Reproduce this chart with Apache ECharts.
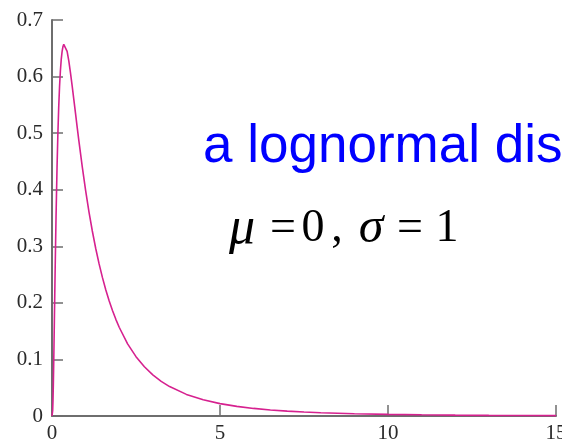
<!DOCTYPE html>
<html>
<head>
<meta charset="utf-8">
<script src="https://cdn.jsdelivr.net/npm/echarts@6/dist/echarts.min.js"></script>
<style>
html,body{margin:0;padding:0;background:#fff;}
#chart{width:562px;height:439px;}
</style>
</head>
<body>
<div id="chart"></div>
<script>
// Values (lognormal density, mu = 0, sigma = 1)
var xValues = [0, 0.01, 0.02, 0.03, 0.04, 0.05, 0.06, 0.07, 0.08, 0.09, 0.1, 0.12, 0.15, 0.175, 0.2, 0.225, 0.25, 0.275, 0.3, 0.325, 0.35, 0.368, 0.4, 0.45, 0.5, 0.55, 0.6, 0.65, 0.7, 0.75, 0.8, 0.9, 1.0, 1.1, 1.2, 1.3, 1.4, 1.5, 1.6, 1.7, 1.8, 1.9, 2.0, 2.25, 2.5, 2.75, 3.0, 3.25, 3.5, 4, 4.5, 5, 5.5, 6, 6.5, 7, 7.5, 8, 9, 10, 11, 12, 13, 14, 15];
var yValues = [0, 0.001, 0.0095, 0.0284, 0.0562, 0.0898, 0.1271, 0.166, 0.2054, 0.2441, 0.2815, 0.3512, 0.4399, 0.499, 0.5464, 0.5828, 0.6104, 0.6305, 0.6442, 0.6527, 0.657, 0.6577, 0.6555, 0.6445, 0.6276, 0.6067, 0.5836, 0.5594, 0.5348, 0.5103, 0.4864, 0.4408, 0.3989, 0.361, 0.327, 0.2965, 0.2693, 0.245, 0.2233, 0.2039, 0.1865, 0.1709, 0.1569, 0.1276, 0.1049, 0.087, 0.0727, 0.0613, 0.052, 0.0382, 0.0286, 0.0219, 0.017, 0.0134, 0.0107, 0.0086, 0.007, 0.0057, 0.004, 0.0028, 0.0021, 0.0015, 0.0011, 0.0009, 0.0007];
var xTicks = [0, 5, 10, 15];
var yTicks = [0, 0.1, 0.2, 0.3, 0.4, 0.5, 0.6, 0.7];
var titleText = "a lognormal dis";
var paramParts = [
  {text: "\u03bc", italic: true, cx: 242, size: 52},
  {text: "=", italic: false, cx: 283, size: 46},
  {text: "0", italic: false, cx: 313, size: 46},
  {text: ",", italic: false, cx: 337, size: 46},
  {text: "\u03c3", italic: true, cx: 371, size: 50},
  {text: "=", italic: false, cx: 410, size: 46},
  {text: "1", italic: false, cx: 447, size: 46}
];

var points = xValues.map(function (x, i) { return [x, yValues[i]]; });
var axisColor = '#6e6e6e';
var labelStyle = {fontFamily: 'Liberation Serif', fontSize: 21, color: '#2a2a2a'};

var graphics = [{
  type: 'text', left: 203, top: 121,
  style: {text: titleText, font: '53px "Liberation Sans"', fill: '#0000ff'},
  z: 10
}];
paramParts.forEach(function (p) {
  graphics.push({
    type: 'text',
    x: p.cx, y: 229,
    style: {
      text: p.text,
      font: (p.italic ? 'italic ' : '') + p.size + 'px "Liberation Serif"',
      fill: '#000',
      textAlign: 'center',
      textVerticalAlign: 'middle'
    },
    z: 10
  });
});

var chart = echarts.init(document.getElementById('chart'));
chart.setOption({
  animation: false,
  backgroundColor: '#fff',
  grid: {left: 52, right: 6, top: 20, bottom: 23, containLabel: false, outerBoundsMode: 'none'},
  xAxis: {
    type: 'value', min: xTicks[0], max: xTicks[xTicks.length - 1], interval: 5,
    axisLine: {show: true, onZero: false, lineStyle: {color: axisColor, width: 2}},
    axisTick: {show: true, inside: true, length: 11, lineStyle: {color: axisColor, width: 1.5}},
    splitLine: {show: false},
    axisLabel: Object.assign({margin: 7}, labelStyle)
  },
  yAxis: {
    type: 'value', min: yTicks[0], max: yTicks[yTicks.length - 1], interval: 0.1,
    axisLine: {show: true, lineStyle: {color: axisColor, width: 2}},
    axisTick: {show: true, inside: true, length: 11, lineStyle: {color: axisColor, width: 1.5}},
    splitLine: {show: false},
    axisLabel: Object.assign({margin: 9, formatter: function (v) { return String(Math.round(v * 10) / 10); }}, labelStyle)
  },
  series: [{
    type: 'line',
    data: points,
    showSymbol: false,
    smooth: false,
    lineStyle: {color: '#d6218f', width: 1.6},
    z: 3
  }],
  graphic: graphics
});
</script>
</body>
</html>
